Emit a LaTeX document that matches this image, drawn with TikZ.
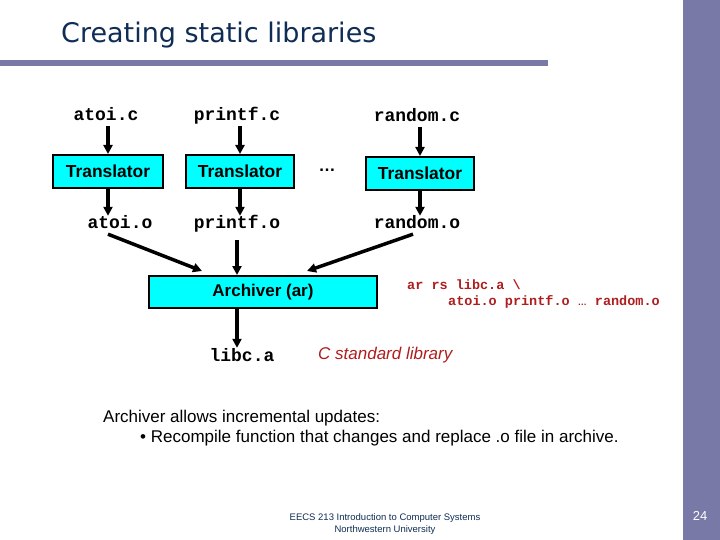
\documentclass[tikz,border=0pt]{standalone}
\usepackage{fontspec}
\setmainfont{Liberation Sans}
\setmonofont{Liberation Mono}
\newfontfamily\titlefont{DejaVu Sans}
\usetikzlibrary{arrows.meta,positioning}

\definecolor{barpurple}{RGB}{120,121,166}
\definecolor{titlenavy}{RGB}{15,45,85}
\definecolor{boxcyan}{RGB}{0,255,255}
\definecolor{cmdred}{RGB}{175,30,30}

\tikzset{
  fname/.style={font=\fontsize{18}{20}\selectfont\ttfamily\bfseries, inner sep=1pt,
    text height=12pt, text depth=4pt, anchor=base},
  tbox/.style={draw, fill=boxcyan, line width=2pt, minimum width=108pt, minimum height=33pt,
    inner sep=0pt, font=\fontsize{17.4}{20}\selectfont\bfseries},
  arr/.style={line width=3.5pt, -{Triangle[length=9pt,width=9pt]}},
  cmd/.style={font=\fontsize{13.5}{15}\selectfont\ttfamily\bfseries, text=cmdred, anchor=west, inner sep=0pt},
}

\begin{document}
\begin{tikzpicture}[x=1pt,y=-1pt]
\useasboundingbox (0,0) rectangle (720,540);
% slide frame
\fill[barpurple] (683,0) rectangle (720,540);
\fill[barpurple] (0,60) rectangle (548,66);
\node[anchor=west, inner sep=0pt, text=titlenavy, font=\fontsize{27}{30}\selectfont\titlefont] (title) at (61,35) {Creating static libraries};
% sources
\node[fname] (ac) at (106,121) {atoi.c};
\node[fname] (pc) at (237,121) {printf.c};
\node[fname] (rc) at (417,122) {random.c};
% translators
\node[tbox, minimum width=110pt] (t1) at (108,171.5) {Translator};
\node[tbox] (t2) at (240,171.5) {Translator};
\node[tbox] (t3) at (420,173.5) {Translator};
\node[font=\fontsize{17}{20}\selectfont\bfseries] (dots) at (327,170) {\ldots};
% objects
\node[fname] (ao) at (120,229) {atoi.o};
\node[fname] (po) at (237,229) {printf.o};
\node[fname] (ro) at (417,229) {random.o};
% archiver
\node[tbox, minimum width=228pt, minimum height=32pt, font=\fontsize{17}{20}\selectfont\bfseries] (arch) at (263,292) {Archiver (ar)};
\node[fname] (lib) at (242,361) {libc.a};
\node[anchor=west, inner sep=0pt, text=cmdred, font=\fontsize{17}{20}\selectfont\itshape] (std) at (318,355) {C standard library};
\node[cmd] (cmd1) at (407,285) {ar rs libc.a \textbackslash};
\node[cmd] (cmd2) at (448,302) {atoi.o printf.o {\rmfamily\fontsize{9}{10}\selectfont\ldots} random.o};
% arrows
\draw[arr] (t1.north |- ac.south) -- (t1.north);
\draw[arr] (t2.north |- pc.south) -- (t2.north);
\draw[arr] (t3.north |- rc.south) -- (t3.north);
\draw[arr] (t1.south) -- (t1.south |- ao.north);
\draw[arr] (t2.south) -- (t2.south |- po.north);
\draw[arr] (t3.south) -- (t3.south |- ro.north);
\draw[arr] ([xshift=-12pt]ao.south) -- ([xshift=-61pt,yshift=4pt]arch.north);
\draw[arr] ([yshift=-6pt]po.south) -- ([xshift=-26pt]arch.north);
\draw[arr] ([xshift=-4pt]ro.south) -- ([xshift=44pt,yshift=4pt]arch.north);
\draw[arr] ([xshift=-26pt]arch.south) -- ([xshift=-5pt]lib.north);
% notes
\node[anchor=west, inner sep=0pt, font=\fontsize{17}{20}\selectfont] (note1) at (103,418) {Archiver allows incremental updates:};
\node[anchor=west, inner sep=0pt, font=\fontsize{17}{20}\selectfont] (note2) at (140,438) {\textbullet\ Recompile function that changes and replace .o file in archive.};
% footer
\node[text=titlenavy, font=\fontsize{9.5}{12}\selectfont, align=center, inner sep=0pt] (foot) at (385,524) {EECS 213 Introduction to Computer Systems\\Northwestern University};
\node[text=white, font=\fontsize{13}{15}\selectfont] (page) at (700,516) {24};
\end{tikzpicture}
\end{document}
